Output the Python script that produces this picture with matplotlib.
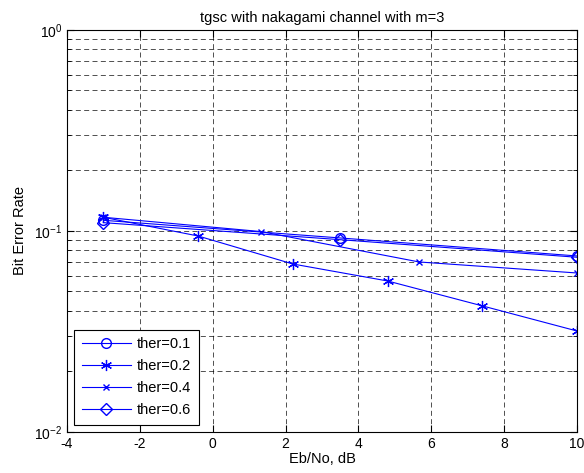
import numpy as np
import matplotlib
matplotlib.use("Agg")
import matplotlib.pyplot as plt

# data
x_01 = [-3, 3.5, 10]
ber_01 = [0.113, 0.0923, 0.0751]

x_02 = [-3, -0.4, 2.2, 4.8, 7.4, 10]
ber_02 = [0.117, 0.0944, 0.0685, 0.0564, 0.0424, 0.0318]

x_04 = [-3, 1.33, 5.67, 10]
ber_04 = [0.117, 0.0993, 0.0701, 0.0618]

x_06 = [-3, 3.5, 10]
ber_06 = [0.110, 0.0905, 0.0740]

labels = ["ther=0.1", "ther=0.2", "ther=0.4", "ther=0.6"]

plt.rcParams["font.family"] = ["Liberation Sans", "DejaVu Sans"]
plt.rcParams["font.size"] = 10
plt.rcParams["axes.unicode_minus"] = False
plt.rcParams["mathtext.fontset"] = "custom"
plt.rcParams["mathtext.rm"] = "Liberation Sans"
plt.rcParams["mathtext.default"] = "regular"

fig = plt.figure(figsize=(5.84, 4.73), dpi=100)
ax = fig.add_axes([0.1147, 0.0867, 0.8733, 0.85])

asterisk = (6, 2, 0)
ax.semilogy(x_01, ber_01, "b-o", lw=0.8, ms=7, mfc="none", label=labels[0])
ax.semilogy(x_02, ber_02, "b-", marker=asterisk, lw=0.8, ms=8, mew=0.9, label=labels[1])
ax.semilogy(x_04, ber_04, "b-x", lw=0.8, ms=5, label=labels[2])
ax.semilogy(x_06, ber_06, "b-D", lw=0.8, ms=6, mfc="none", label=labels[3])

ax.set_xlim(-4, 10)
ax.set_ylim(1e-2, 1e0)
ax.set_xticks(np.arange(-4, 11, 2))

ax.grid(True, which="major", ls=(0, (6, 4)), color="k", lw=0.6, alpha=0.8)
ax.grid(True, which="minor", axis="y", ls=(0, (6, 4)), color="k", lw=0.6, alpha=0.8)
ax.tick_params(which="both", direction="in", top=True, right=True, labelsize=10)
ax.tick_params(which="major", length=5)
ax.tick_params(which="minor", length=3)

ax.set_title("tgsc with nakagami channel with m=3", fontsize=10.5)
ax.set_xlabel("Eb/No, dB", labelpad=1, fontsize=10.5)
ax.set_ylabel("Bit Error Rate", labelpad=5, fontsize=10.5)

leg = ax.legend(loc="lower left", fancybox=False, edgecolor="k", framealpha=1,
                handlelength=3.4, borderaxespad=0.5, fontsize=10.5,
                labelspacing=0.55, handletextpad=0.4, borderpad=0.5)
leg.get_frame().set_linewidth(0.8)

fig.savefig("out.png", dpi=100)
